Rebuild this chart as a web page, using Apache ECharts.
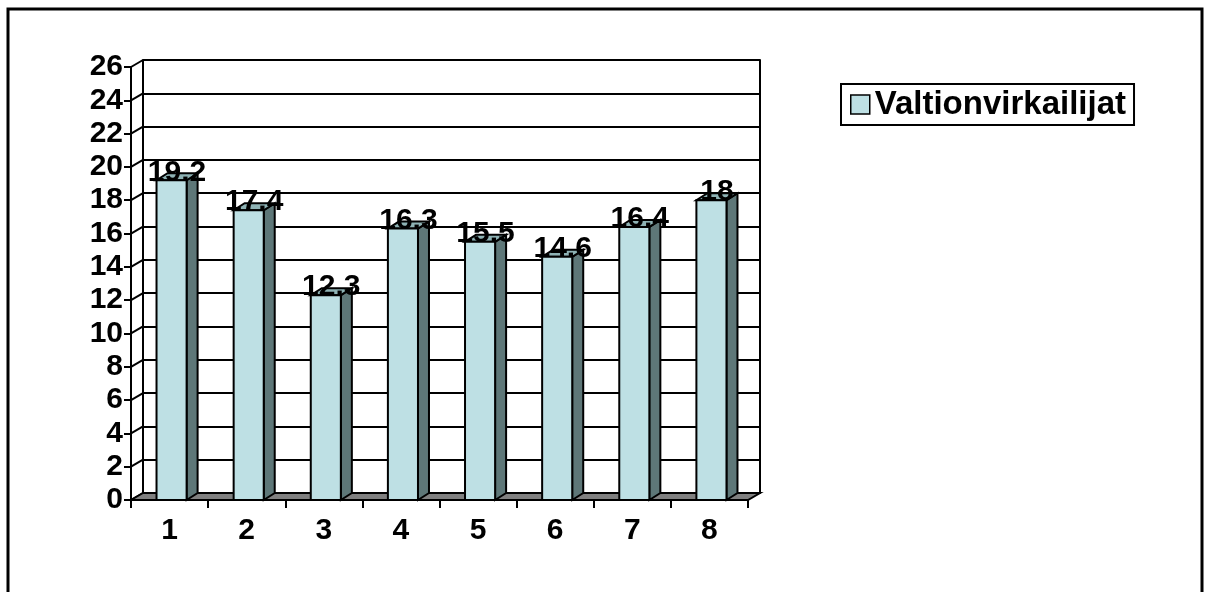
<!DOCTYPE html>
<html>
<head>
<meta charset="utf-8">
<script src="https://cdn.jsdelivr.net/npm/echarts@6/dist/echarts.min.js"></script>
<style>
  html, body { margin: 0; padding: 0; background: #fff; }
  #chart { width: 1208px; height: 592px; }
</style>
</head>
<body>
<div id="chart"></div>
<script>
// Category labels along the floor
const categories = ['1', '2', '3', '4', '5', '6', '7', '8'];
// Column values (also printed above each column)
const values = [19.2, 17.4, 12.3, 16.3, 15.5, 14.6, 16.4, 18];
const seriesName = 'Valtionvirkailijat';
// Value axis range and step
const yMin = 0;
const yMax = 26;
const yStep = 2;
const yTicks = [0, 2, 4, 6, 8, 10, 12, 14, 16, 18, 20, 22, 24, 26];

// Depth offset of the pseudo-3D box (back wall relative to front plane)
const DX = 12, DY = -7;
// Depth offset of a column's side/top faces
const BDX = 11, BDY = -7;
const FRONT = '#BEE0E4', SIDE = '#5E7778', TOP = '#8EB2B4', FLOOR = '#808080';
const FONT = '"Liberation Sans", Arial, sans-serif';

const FL = 131, FT = 67, FW = 617, FH = 433;

const chart = echarts.init(document.getElementById('chart'));

const lineStyle = { color: '#000', width: 2 };

const option = {
  animation: false,
  backgroundColor: '#fff',
  textStyle: { fontFamily: FONT },
  graphic: [{
    type: 'rect',
    shape: { x: 8, y: 9, width: 1194, height: 600 },
    style: { fill: 'none', stroke: '#000', lineWidth: 3 },
    silent: true,
    z: 0
  }],
  legend: {
    data: [seriesName],
    left: 841,
    top: 84,
    orient: 'vertical',
    padding: [4, 8, 4, 9],
    backgroundColor: '#fff',
    borderColor: '#000',
    borderWidth: 2,
    borderRadius: 0,
    icon: 'rect',
    itemWidth: 19,
    itemHeight: 19,
    itemGap: 0,
    itemStyle: { borderColor: '#000', borderWidth: 1.5 },
    textStyle: { fontSize: 33, fontWeight: 'bold', color: '#000', fontFamily: FONT }
  },
  grid: [
    // front plane: axes, floor, columns
    { left: FL, top: FT, width: FW, height: FH },
    // back wall with its horizontal grid lines
    { left: FL + DX, top: FT + DY, width: FW, height: FH }
  ],
  xAxis: [{
    gridIndex: 0,
    type: 'category',
    data: categories,
    boundaryGap: true,
    axisLine: { show: true, lineStyle: lineStyle },
    axisTick: { show: true, length: 8, interval: 0, lineStyle: lineStyle },
    axisLabel: { fontSize: 30, fontWeight: 'bold', color: '#000', margin: 16, fontFamily: FONT },
    splitLine: { show: false },
    z: 6
  }, {
    gridIndex: 1,
    type: 'category',
    data: categories,
    show: false
  }],
  yAxis: [{
    gridIndex: 0,
    type: 'value',
    min: yMin, max: yMax, interval: yStep,
    axisLine: { show: true, lineStyle: lineStyle },
    axisTick: { show: true, length: 7, lineStyle: lineStyle },
    axisLabel: { fontSize: 30, fontWeight: 'bold', color: '#000', margin: 8, fontFamily: FONT },
    splitLine: { show: false },
    z: 6
  }, {
    gridIndex: 1,
    type: 'value',
    min: yMin, max: yMax, interval: yStep,
    axisLine: { show: true, lineStyle: lineStyle },
    axisTick: { show: false },
    axisLabel: { show: false },
    splitLine: { show: true, lineStyle: lineStyle }
  }, {
    gridIndex: 1,
    type: 'value',
    position: 'right',
    min: yMin, max: yMax, interval: yStep,
    axisLine: { show: true, lineStyle: lineStyle },
    axisTick: { show: false },
    axisLabel: { show: false },
    splitLine: { show: false }
  }],
  series: [
    {
      // left side wall: slanted lines joining front ticks to back grid lines
      type: 'custom',
      xAxisIndex: 0, yAxisIndex: 0,
      silent: true,
      clip: false,
      z: 2,
      data: yTicks.map(v => [0, v]),
      encode: { x: 0, y: 1 },
      renderItem: function (params, api) {
        const cs = params.coordSys;
        const y = api.coord([0, api.value(1)])[1];
        return {
          type: 'line',
          shape: { x1: cs.x, y1: y, x2: cs.x + DX, y2: y + DY },
          style: { stroke: '#000', lineWidth: 2 }
        };
      }
    },
    {
      // floor
      type: 'custom',
      xAxisIndex: 0, yAxisIndex: 0,
      silent: true,
      clip: false,
      z: 3,
      data: [[0, yMin]],
      encode: { x: 0, y: 1 },
      renderItem: function (params, api) {
        const cs = params.coordSys;
        const y = api.coord([0, yMin])[1];
        const x0 = cs.x, x1 = cs.x + cs.width;
        return {
          type: 'polygon',
          shape: { points: [[x0, y], [x1, y], [x1 + DX, y + DY], [x0 + DX, y + DY]] },
          style: { fill: FLOOR, stroke: '#000', lineWidth: 2 }
        };
      }
    },
    {
      name: seriesName,
      type: 'custom',
      xAxisIndex: 0, yAxisIndex: 0,
      clip: false,
      z: 4,
      itemStyle: { color: FRONT },
      data: values.map((v, i) => [i, v]),
      encode: { x: 0, y: 1 },
      renderItem: function (params, api) {
        const idx = api.value(0);
        const val = api.value(1);
        const top = api.coord([idx, val]);
        const base = api.coord([idx, yMin]);
        const band = api.size([1, 0])[0];
        const w = band * 0.39;
        const cx = top[0] + 2;
        const L = cx - w / 2, R = cx + w / 2;
        const T = top[1], B = base[1];
        const stroke = { stroke: '#000', lineWidth: 2, lineJoin: 'miter' };
        return {
          type: 'group',
          children: [
            {
              type: 'polygon',
              shape: { points: [[R, T], [R + BDX, T + BDY], [R + BDX, B + BDY], [R, B]] },
              style: Object.assign({ fill: SIDE }, stroke)
            },
            {
              type: 'polygon',
              shape: { points: [[L, T], [R, T], [R + BDX, T + BDY], [L + BDX, T + BDY]] },
              style: Object.assign({ fill: TOP }, stroke)
            },
            {
              type: 'rect',
              shape: { x: L, y: T, width: R - L, height: B - T },
              style: Object.assign({ fill: FRONT }, stroke)
            },
            {
              type: 'text',
              x: cx + BDX / 2,
              y: T - 8,
              z2: 10,
              style: {
                text: String(val),
                fill: '#000',
                font: 'bold 30px ' + FONT,
                align: 'center',
                verticalAlign: 'middle'
              }
            }
          ]
        };
      }
    }
  ]
};

chart.setOption(option);
</script>
</body>
</html>
